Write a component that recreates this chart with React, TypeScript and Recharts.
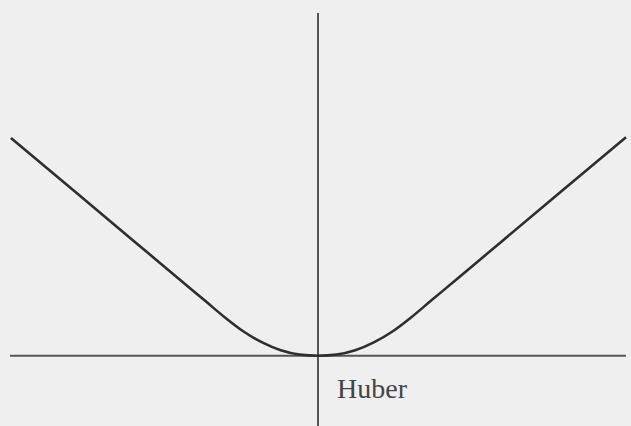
import React from "react";
import { LineChart, Line, XAxis, YAxis, ReferenceLine, Customized } from "recharts";

// Huber-style loss: sample points of the curve
const xs = [-3.3, -2.6, -2.0, -1.5, -1.2, -1.0, -0.8, -0.6, -0.4, -0.2, 0, 0.2, 0.4, 0.6, 0.8, 1.0, 1.2, 1.5, 2.0, 2.6, 3.31];
const losses = [2.79, 2.09, 1.49, 0.99, 0.69, 0.49, 0.31, 0.17, 0.07, 0.015, 0, 0.015, 0.07, 0.17, 0.31, 0.49, 0.69, 0.99, 1.49, 2.09, 2.8];
const caption = "Huber";

const data = xs.map((x, i) => ({ x, loss: losses[i] }));

const Caption = () => (
  <text
    x={337}
    y={398}
    fontFamily="'Liberation Serif', 'DejaVu Serif', serif"
    fontSize={28}
    fill="#444"
  >
    {caption}
  </text>
);

export default function App() {
  return (
    <div
      style={{
        position: "absolute",
        left: 0,
        top: 0,
        width: 631,
        height: 426,
        background: "#efefef",
      }}
    >
      <LineChart
        width={631}
        height={426}
        data={data}
        margin={{ top: 13, right: 5, bottom: 0, left: 10 }}
      >
        <XAxis type="number" dataKey="x" domain={[-3.31, 3.31]} hide />
        <YAxis type="number" domain={[-0.9, 4.39]} hide />
        <ReferenceLine y={0} stroke="#555" strokeWidth={2} />
        <ReferenceLine x={0} stroke="#555" strokeWidth={2} />
        <Line
          type="monotone"
          dataKey="loss"
          stroke="#2e2e2e"
          strokeWidth={2.6}
          dot={false}
          isAnimationActive={false}
        />
        <Customized component={Caption} />
      </LineChart>
    </div>
  );
}
